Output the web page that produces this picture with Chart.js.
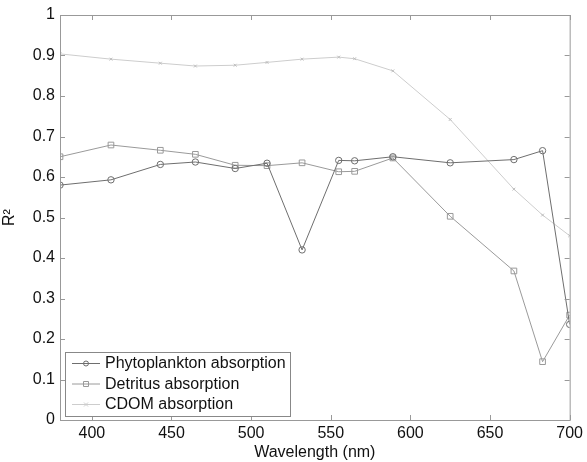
<!DOCTYPE html>
<html lang="en">
<head>
  <meta charset="UTF-8">
  <title>R2 vs Wavelength</title>
  <script src="https://cdn.jsdelivr.net/npm/chart.js"></script>
  <style>
    body { margin: 0; background: #fff; }
    #wrap { width: 587px; height: 462px; }
  </style>
</head>
<body>
  <div id="wrap"><canvas id="grafik" width="587" height="462"></canvas></div>
  <script>
    const wavelength = [380, 412, 443, 465, 490, 510, 532, 555, 565, 589, 625, 665, 683, 700];
    const phyto   = [0.580, 0.593, 0.631, 0.637, 0.621, 0.634, 0.420, 0.641, 0.640, 0.650, 0.635, 0.643, 0.665, 0.236];
    const detritus = [0.650, 0.679, 0.666, 0.656, 0.629, 0.628, 0.635, 0.613, 0.614, 0.647, 0.503, 0.368, 0.144, 0.259];
    const cdom    = [0.904, 0.891, 0.881, 0.874, 0.876, 0.883, 0.891, 0.896, 0.892, 0.862, 0.742, 0.570, 0.506, 0.455];
    const xTicks = [400, 450, 500, 550, 600, 650, 700];
    const yTicks = [0, 0.1, 0.2, 0.3, 0.4, 0.5, 0.6, 0.7, 0.8, 0.9, 1];

    const pts = (ys) => wavelength.map((w, i) => ({ x: w, y: ys[i] }));
    const schrift = '"Liberation Sans", Arial, sans-serif';

    // box, inner ticks and legend drawn like the original figure
    const rahmen = {
      id: 'rahmen',
      afterDraw(chart) {
        const c = chart.ctx, a = chart.chartArea;
        const sx = chart.scales.x, sy = chart.scales.y;
        c.save();
        c.strokeStyle = '#999';
        c.lineWidth = 1;
        c.strokeRect(a.left + 0.5, a.top + 0.5, a.right - a.left, a.bottom - a.top);
        c.beginPath();
        xTicks.forEach(v => {
          const px = Math.round(sx.getPixelForValue(v)) + 0.5;
          c.moveTo(px, a.bottom); c.lineTo(px, a.bottom - 5);
          c.moveTo(px, a.top); c.lineTo(px, a.top + 5);
        });
        yTicks.forEach(v => {
          const py = Math.round(sy.getPixelForValue(v)) + 0.5;
          c.moveTo(a.left, py); c.lineTo(a.left + 5, py);
          c.moveTo(a.right, py); c.lineTo(a.right - 5, py);
        });
        c.stroke();

        // legend
        const lx = 65, ly = 352, lw = 225, lh = 64;
        c.fillStyle = '#fff';
        c.fillRect(lx, ly, lw, lh);
        c.strokeStyle = '#888';
        c.strokeRect(lx + 0.5, ly + 0.5, lw, lh);
        c.font = '16px ' + schrift;
        c.textBaseline = 'middle';
        chart.data.datasets.forEach((ds, i) => {
          const yy = ly + 11 + i * 20.5;
          c.strokeStyle = ds.borderColor;
          c.beginPath();
          c.moveTo(lx + 7, yy + 0.5); c.lineTo(lx + 35, yy + 0.5);
          c.stroke();
          const mx = lx + 21;
          c.beginPath();
          if (ds.pointStyle === 'circle') {
            c.arc(mx, yy + 0.5, 2.5, 0, Math.PI * 2);
          } else if (ds.pointStyle === 'rect') {
            c.rect(mx - 2.5, yy - 2, 5, 5);
          } else {
            c.moveTo(mx - 2, yy - 1.5); c.lineTo(mx + 2, yy + 2.5);
            c.moveTo(mx + 2, yy - 1.5); c.lineTo(mx - 2, yy + 2.5);
          }
          c.stroke();
          c.fillStyle = '#111';
          c.fillText(ds.label, lx + 40, yy + 1);
        });
        c.restore();
      }
    };

    const ctx = document.getElementById('grafik').getContext('2d');
    new Chart(ctx, {
      type: 'line',
      data: {
        datasets: [
          {
            label: 'Phytoplankton absorption',
            data: pts(phyto),
            borderColor: '#6e6e6e',
            pointStyle: 'circle',
            pointRadius: 3.2,
            pointBorderColor: '#6e6e6e',
            pointBackgroundColor: 'rgba(0,0,0,0)',
            borderWidth: 1,
            pointBorderWidth: 1
          },
          {
            label: 'Detritus absorption',
            data: pts(detritus),
            borderColor: '#9a9a9a',
            pointStyle: 'rect',
            pointRadius: 4,
            pointBorderColor: '#999',
            pointBackgroundColor: 'rgba(0,0,0,0)',
            borderWidth: 1,
            pointBorderWidth: 1
          },
          {
            label: 'CDOM absorption',
            data: pts(cdom),
            borderColor: '#cdcdcd',
            pointStyle: 'crossRot',
            pointRadius: 2,
            pointBorderColor: '#bdbdbd',
            borderWidth: 1,
            pointBorderWidth: 1
          }
        ]
      },
      options: {
        responsive: false,
        animation: false,
        layout: { padding: { top: 15, right: 11, left: 0, bottom: 0 } },
        plugins: { legend: { display: false }, tooltip: { enabled: false } },
        scales: {
          x: {
            type: 'linear',
            min: 380,
            max: 700,
            afterBuildTicks: (s) => { s.ticks = xTicks.map(v => ({ value: v })); },
            afterFit: (s) => { s.height = 42; },
            grid: { display: false, drawTicks: false },
            border: { display: false },
            ticks: {
              color: '#111',
              padding: 4,
              maxRotation: 0,
              font: { family: schrift, size: 16 }
            },
            title: {
              display: true,
              text: 'Wavelength (nm)',
              color: '#111',
              padding: { top: -4, bottom: 0 },
              font: { family: schrift, size: 16 }
            }
          },
          y: {
            min: 0,
            max: 1,
            afterBuildTicks: (s) => { s.ticks = yTicks.map(v => ({ value: v })); },
            afterFit: (s) => { s.width = 60; },
            grid: { display: false, drawTicks: false },
            border: { display: false },
            ticks: {
              color: '#111',
              padding: 5,
              callback: (v) => String(Math.round(v * 10) / 10),
              font: { family: schrift, size: 16 }
            },
            title: {
              display: true,
              text: 'R²',
              color: '#111',
              padding: { top: 0, bottom: 2 },
              font: { family: schrift, size: 16 }
            }
          }
        }
      },
      plugins: [rahmen]
    });
  </script>
</body>
</html>
